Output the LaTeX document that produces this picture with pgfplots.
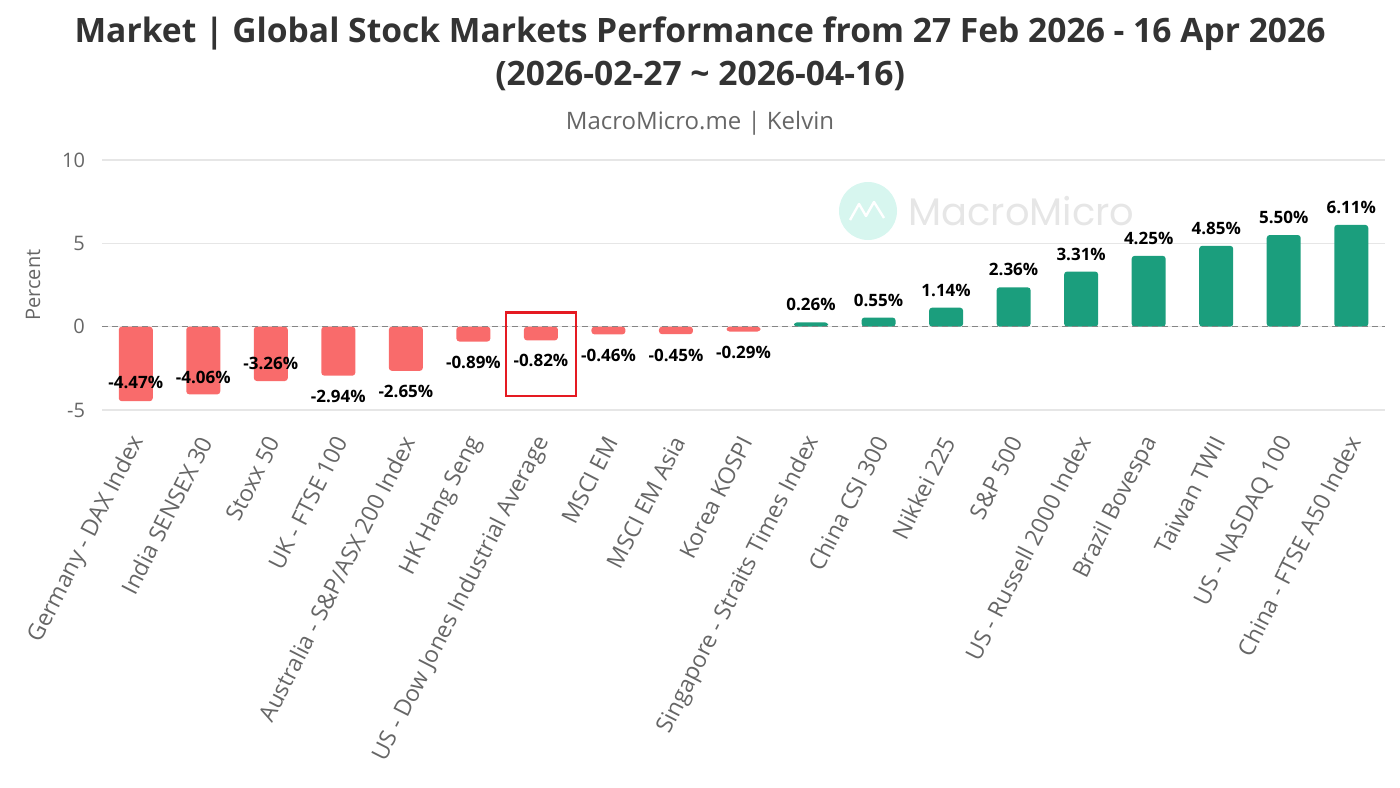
\documentclass[border=0pt]{standalone}
\usepackage{fontspec}
\setmainfont{Open Sans}
\newfontfamily\wmfont{Poppins}
\usepackage{pgfplots}
\pgfplotsset{compat=1.18}
\definecolor{negred}{HTML}{F96B6B}
\definecolor{posgreen}{HTML}{1B9E7D}
\definecolor{titlegray}{HTML}{333333}
\definecolor{labgray}{HTML}{666666}
\definecolor{gridgray}{HTML}{E6E6E6}
\definecolor{mint}{HTML}{D7F6EF}
\definecolor{boxred}{HTML}{E51A22}

\newcommand{\lab}[3]{\node[font=\fontsize{8.5}{10}\selectfont\bfseries] at (axis cs:#1,#2) {#3\%};}

\begin{document}
\begin{tikzpicture}
% page = 1400 x 787 px at 0.5pt per px, origin top left
\path[use as bounding box] (0,0) rectangle (700pt,-393.5pt);

% titles
\node[font=\fontsize{16.8}{20}\selectfont\bfseries, text=titlegray] at (350pt,-17pt) {Market | Global Stock Markets Performance from 27 Feb 2026 - 16 Apr 2026};
\node[font=\fontsize{16.8}{20}\selectfont\bfseries, text=titlegray] at (350pt,-38pt) {(2026-02-27 \textasciitilde{} 2026-04-16)};
\node[font=\fontsize{12}{14}\selectfont, text=labgray] at (350pt,-61.5pt) {MacroMicro.me | Kelvin};

% watermark
\fill[mint] (434pt,-105.5pt) circle (14.5pt);
\draw[white, line width=1.2pt, line join=round] (425pt,-110pt) -- (429.5pt,-102pt) -- (433pt,-108pt) -- (437pt,-101pt) -- (442pt,-109pt);
\node[anchor=west, font=\wmfont\fontsize{19.2}{22}\selectfont, text=gridgray, inner sep=0pt] at (454pt,-105.5pt) {MacroMicro};

\begin{axis}[
    at={(51pt,-205pt)}, anchor=south west,
    scale only axis,
    width=641.5pt, height=125pt,
    xmin=-0.5, xmax=18.5,
    ymin=-5, ymax=10,
    ytick={-5,0,5,10},
    xtick={0,...,18},
    xticklabels={Germany - DAX Index, India SENSEX 30, Stoxx 50, UK - FTSE 100,
        Australia - S\&P/ASX 200 Index, HK Hang Seng, US - Dow Jones Industrial Average,
        MSCI EM, MSCI EM Asia, Korea KOSPI, Singapore - Straits Times Index,
        China CSI 300, Nikkei 225, S\&P 500, US - Russell 2000 Index, Brazil Bovespa,
        Taiwan TWII, US - NASDAQ 100, China - FTSE A50 Index},
    x tick label style={xshift=1.5pt, yshift=-14pt, rotate=63, anchor=east, inner sep=0pt,
        font=\fontsize{11.5}{13}\selectfont, text=labgray},
    y tick label style={font=\fontsize{10}{12}\selectfont, text=labgray, xshift=-5pt},
    /pgf/number format/assume math mode=true,
    ylabel={Percent},
    every axis y label/.style={at={(axis description cs:0,0.5)}, xshift=-34.5pt, rotate=90,
        anchor=center, font=\fontsize{10}{12}\selectfont, text=labgray},
    ymajorgrids,
    grid style={gridgray, line width=0.6pt},
    axis line style={draw=none},
    major tick length=0pt,
    ybar, bar width=17pt,
]
\addplot[fill=negred, draw=none, bar shift=0pt, rounded corners=1.5pt] coordinates {
    (0,-4.47) (1,-4.06) (2,-3.26) (3,-2.94) (4,-2.65) (5,-0.89) (6,-0.82) (7,-0.46) (8,-0.45) (9,-0.29)
};
\addplot[fill=posgreen, draw=none, bar shift=0pt, rounded corners=1.5pt] coordinates {
    (10,0.26) (11,0.55) (12,1.14) (13,2.36) (14,3.31) (15,4.25) (16,4.85) (17,5.50) (18,6.11)
};
\draw[labgray!80, dash pattern=on 3pt off 2pt, line width=0.5pt] (axis cs:-0.5,0) -- (axis cs:18.5,0);

% data labels
\lab{0}{-3.37}{-4.47}
\lab{1}{-3.05}{-4.06}
\lab{2}{-2.23}{-3.26}
\lab{3}{-4.16}{-2.94}
\lab{4}{-3.87}{-2.65}
\lab{5}{-2.12}{-0.89}
\lab{6}{-2.05}{-0.82}
\lab{7}{-1.72}{-0.46}
\lab{8}{-1.72}{-0.45}
\lab{9}{-1.56}{-0.29}
\lab{10}{1.31}{0.26}
\lab{11}{1.60}{0.55}
\lab{12}{2.19}{1.14}
\lab{13}{3.41}{2.36}
\lab{14}{4.36}{3.31}
\lab{15}{5.30}{4.25}
\lab{16}{5.90}{4.85}
\lab{17}{6.55}{5.50}
\lab{18}{7.16}{6.11}

\draw[boxred, line width=1.2pt] (axis cs:5.48,0.84) rectangle (axis cs:6.52,-4.16);
\end{axis}
\end{tikzpicture}
\end{document}
